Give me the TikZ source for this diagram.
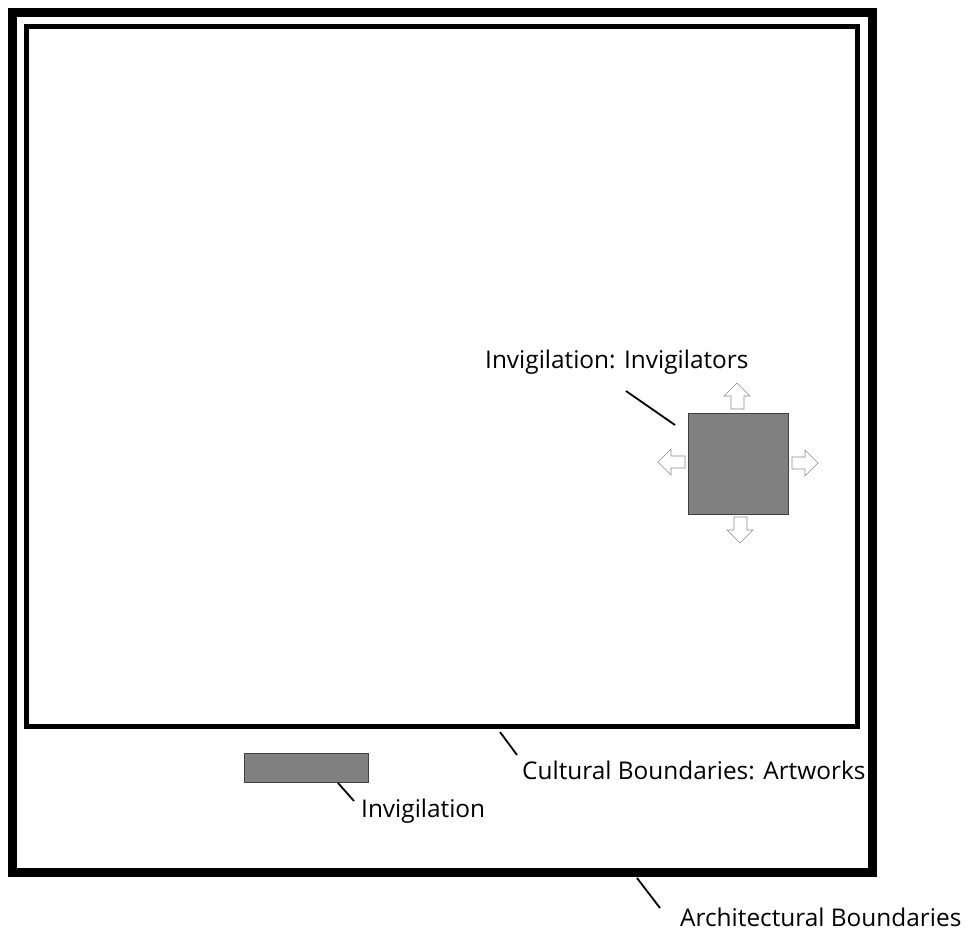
\documentclass[tikz,border=0pt]{standalone}
\usepackage{fontspec}
\setmainfont{Open Sans}
\begin{document}
\begin{tikzpicture}[x=1pt,y=-1pt,
  wallouter/.style={draw=black,line width=8.5pt},
  wallinner/.style={draw=black,line width=5pt},
  guard/.style={fill=black!50,draw=black!75,line width=0.8pt},
  leader/.style={draw=black,line width=1.8pt},
  lbl/.style={font=\fontsize{24.4}{28}\selectfont,inner sep=0pt,anchor=base west},
  flowarrow/.style={fill=white,draw=black!45,line width=0.6pt}]
\useasboundingbox (0,0) rectangle (968,934);
% building walls and the artwork boundary
\draw[wallouter] (12.5,12.5) rectangle (872.5,872.5);
\draw[wallinner] (26.5,26.5) rectangle (857.5,726);
% invigilator block with its four directions of movement
\node[guard,minimum width=100pt,minimum height=101pt,inner sep=0pt,anchor=north west] (inv) at (688,413) {};
\draw[flowarrow] (737,383) -- (750,396) -- (744,396) -- (744,409) -- (731,409) -- (731,396) -- (724,396) -- cycle;
\draw[flowarrow] (740,543) -- (753,530) -- (747,530) -- (747,517) -- (734,517) -- (734,530) -- (727,530) -- cycle;
\draw[flowarrow] (658,462) -- (671,449) -- (671,456) -- (685,456) -- (685,468) -- (671,468) -- (671,475) -- cycle;
\draw[flowarrow] (818,463) -- (805,450) -- (805,457) -- (792,457) -- (792,469) -- (805,469) -- (805,476) -- cycle;
% fixed invigilation desk
\node[guard,minimum width=124pt,minimum height=29pt,inner sep=0pt,anchor=north west] (desk) at (244,753) {};
% labels
\node[lbl] (tinv) at (485,368) {Invigilation: Invigilators};
\node[lbl] (tdesk) at (361,817) {Invigilation};
\node[lbl] (tcult) at (522,779) {Cultural Boundaries: Artworks};
\node[lbl] (tarch) at (680,926) {Architectural Boundaries};
% leader lines
\coordinate (cinv) at (626,391);
\coordinate (cdesk) at (338,783);
\coordinate (ccult) at (500,732);
\coordinate (carch) at (637,878);
\draw[leader] (cinv) -- (675,425);
\draw[leader] (cdesk) -- (354,801);
\draw[leader] (ccult) -- (517,755);
\draw[leader] (carch) -- (660,908);
\end{tikzpicture}
\end{document}
